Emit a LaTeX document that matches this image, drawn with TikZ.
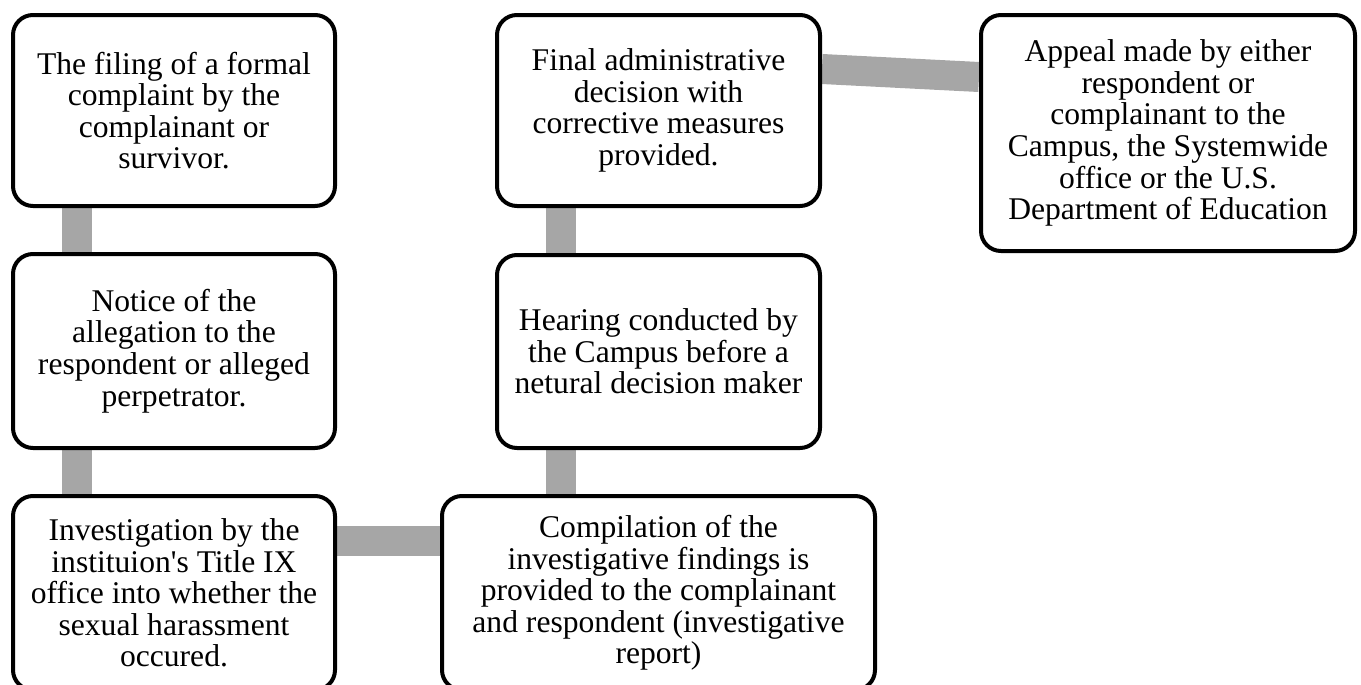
\documentclass[tikz,border=0pt]{standalone}
\usepackage{fontspec}
\setmainfont{Liberation Serif}
\usetikzlibrary{backgrounds}
\definecolor{linkgray}{RGB}{166,166,166}

\begin{document}
\begin{tikzpicture}[x=0.5pt, y=-0.5pt,
    stage/.style={draw=black, line width=2pt, rounded corners=10pt, fill=white,
                  align=center, inner sep=0pt, font=\fontsize{15.8}{15.8}\selectfont},
    link/.style={draw=linkgray, line width=15pt}]
                    \useasboundingbox (0,0) rectangle (1361,685);
                    \clip (0,0) rectangle (1361,685);

                    % Stages
                    \node[stage, minimum width=161pt, minimum height=95.5pt] (filing) at (174,110.5)
                        {The filing of a formal\\complaint by the\\complainant or\\survivor.};
                    \node[stage, minimum width=161pt, minimum height=97pt] (notice) at (174,351)
                        {Notice of the\\allegation to the\\respondent or alleged\\perpetrator.};
                    \node[stage, minimum width=161pt, minimum height=97pt] (investigation) at (174,593)
                        {Investigation by the\\instituion\textquotesingle s Title IX\\office into whether the\\sexual harassment\\occured.};
                    \node[stage, minimum width=216.5pt, minimum height=97pt] (compilation) at (658.5,593)
                        {Compilation of the\\investigative findings is\\provided to the complainant\\and respondent (investigative\\report)};
                    \node[stage, minimum width=161.5pt, minimum height=96.5pt] (hearing) at (658.5,351.5)
                        {Hearing conducted by\\the Campus before a\\netural decision maker};
                    \node[stage, minimum width=161.5pt, minimum height=95.5pt] (decision) at (658.5,110.5)
                        {Final administrative\\decision with\\corrective measures\\provided.};
                    \node[stage, minimum width=187pt, minimum height=118pt] (appeal) at (1168,133)
                        {Appeal made by either\\respondent or\\complainant to the\\Campus, the Systemwide\\office or the U.S.\\Department of Education};

                    % Links
                    \begin{scope}[on background layer]
                    \draw[link] ([xshift=33pt]filing.south west) -- ([xshift=33pt]notice.north west);
                    \draw[link] ([xshift=33pt]notice.south west) -- ([xshift=33pt]investigation.north west);
                    \draw[link] ([yshift=-23.5pt]investigation.north east) -- ([yshift=-23.5pt]compilation.north west);
                    \draw[link] ([xshift=33pt]hearing.south west) -- ([xshift=33pt]hearing.south west |- compilation.north);
                    \draw[link] ([xshift=33pt]decision.south west) -- ([xshift=33pt]hearing.north west);
                    \draw[link] ([yshift=-28pt]decision.north east) -- ([yshift=-32pt]appeal.north west);
                    \end{scope}
                \end{tikzpicture}
\end{document}
